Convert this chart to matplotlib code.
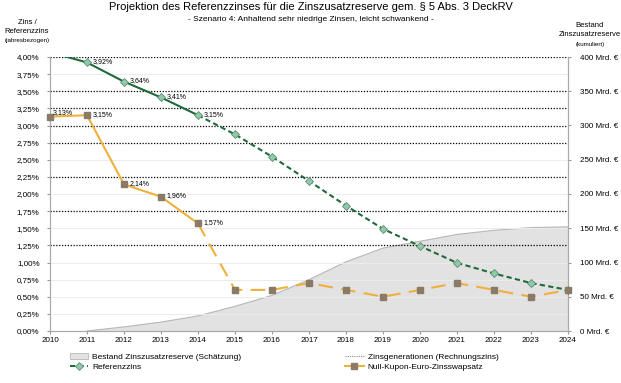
import matplotlib.pyplot as plt
from matplotlib.lines import Line2D
from matplotlib.patches import Patch

plt.rcParams["font.family"] = ["Liberation Sans", "DejaVu Sans"]

years = list(range(2010, 2025))
referenzzins = [4.07, 3.92, 3.64, 3.41, 3.15, 2.87, 2.545, 2.19, 1.83, 1.49,
                1.24, 0.995, 0.84, 0.70, 0.60]
nullkupon = [3.13, 3.15, 2.14, 1.96, 1.57, 0.60, 0.60, 0.70, 0.60, 0.50,
             0.60, 0.70, 0.60, 0.50, 0.60]
bestand_years = list(range(2011, 2025))
bestand = [0, 6, 13, 22, 36, 52, 75, 101, 121, 131, 141, 147, 151, 152]
zinsgenerationen = [4.00, 3.50, 3.25, 3.00, 2.75, 2.25, 1.75, 1.25]
label_idx_ref = [1, 2, 3, 4]
label_idx_nk = [0, 1, 2, 3, 4]
split = 4  # last year with actual values (2014)

green = "#1f6a3c"
green_fill = "#8fcaa9"
orange = "#f0b03c"
brown = "#8a7a66"

fig = plt.figure(figsize=(6.21, 3.83), dpi=100)
ax = fig.add_axes([50 / 621, 52 / 383, 518 / 621, 274 / 383])
ax2 = ax.twinx()
ax.set_zorder(2)
ax.patch.set_visible(False)

# area (right axis)
ax2.fill_between(bestand_years, bestand, color="#e2e2e2", zorder=1)
ax2.plot(bestand_years, bestand, color="#b8b8b8", lw=0.8, zorder=2)
ax2.set_ylim(0, 400)
ax2.set_yticks(range(0, 401, 50))
ax2.set_yticklabels([f"{v} Mrd. €" for v in range(0, 401, 50)])

# pale grid + Zinsgenerationen
ax.set_ylim(0, 4.0)
ax.set_xlim(2010, 2024)
ticks = [i * 0.25 for i in range(17)]
for t in ticks:
    if t not in zinsgenerationen and t > 0:
        ax.axhline(t, color="#ececec", lw=0.7, zorder=0)
for z in zinsgenerationen:
    ax.axhline(z, color="black", lw=0.9, ls=(0, (1, 1.3)), zorder=1)

# Referenzzins
ax.plot(years[:split + 1], referenzzins[:split + 1], color=green, lw=1.5, zorder=4)
ax.plot(years[split:], referenzzins[split:], color=green, lw=1.5,
        ls=(0, (2.5, 1.6)), zorder=4)
ax.plot(years[1:], referenzzins[1:], ls="none", marker="D", ms=3.6,
        mfc=green_fill, mec="#5f8c74", mew=0.6, zorder=5)

# Null-Kupon
ax.plot(years[:split + 1], nullkupon[:split + 1], color=orange, lw=1.5, zorder=4)
ax.plot(years[split:], nullkupon[split:], color=orange, lw=1.5,
        ls=(0, (7, 4)), zorder=4)
ax.plot(years, nullkupon, ls="none", marker="s", ms=3.8, mfc=brown, mec=brown,
        zorder=5, clip_on=False)

for i in label_idx_ref:
    ax.annotate(f"{referenzzins[i]:.2f}%".replace(".", ","), (years[i], referenzzins[i]),
                xytext=(4, 0.5), textcoords="offset points", fontsize=5,
                va="center", zorder=6)
for i in label_idx_nk:
    off = (2, 3) if i == 0 else (4, 0.5)
    ax.annotate(f"{nullkupon[i]:.2f}%".replace(".", ","), (years[i], nullkupon[i]),
                xytext=off, textcoords="offset points", fontsize=5,
                va="center", zorder=6)

ax.set_xticks(years)
ax.set_yticks(ticks)
ax.set_yticklabels([f"{t:.2f}%".replace(".", ",") for t in ticks])
for a in (ax, ax2):
    a.tick_params(labelsize=5.8, length=2.5, color="#999999", pad=2)
    for s in a.spines.values():
        s.set_color("#aaaaaa")
    a.spines["top"].set_visible(False)
ax2.tick_params(axis="y", pad=6)
ax.tick_params(axis="y", pad=5)

fig.text(0.5, 0.982, "Projektion des Referenzzinses für die Zinszusatzreserve gem. § 5 Abs. 3 DeckRV",
         ha="center", va="center", fontsize=8)
fig.text(0.5, 0.950, "- Szenario 4: Anhaltend sehr niedrige Zinsen, leicht schwankend -",
         ha="center", va="center", fontsize=6)
fig.text(27 / 621, 0.93, "Zins /\nReferenzzins", ha="center", va="center",
         fontsize=5.5, linespacing=1.3)
fig.text(27 / 621, 0.893, "(jahresbezogen)", ha="center", va="center", fontsize=4.5)
fig.text(590 / 621, 0.922, "Bestand\nZinszusatzreserve", ha="center", va="center",
         fontsize=5.5, linespacing=1.3)
fig.text(590 / 621, 0.885, "(kumuliert)", ha="center", va="center", fontsize=4.5)

handles = [
    Patch(facecolor="#e2e2e2", edgecolor="#b8b8b8", lw=0.6),
    Line2D([], [], color=green, lw=1.5, ls=(0, (2.5, 1.6)), marker="D", ms=3.6,
           mfc=green_fill, mec="#5f8c74", mew=0.6),
    Line2D([], [], color="#888888", lw=0.8, ls=(0, (1, 1))),
    Line2D([], [], color=orange, lw=1.5, marker="s", ms=3.8, mfc=brown, mec=brown),
]
labels = ["Bestand Zinszusatzreserve (Schätzung)", "Referenzzins",
          "Zinsgenerationen (Rechnungszins)", "Null-Kupon-Euro-Zinsswapsatz"]
fig.legend(handles, labels, loc="center left", bbox_to_anchor=(62 / 621, 0.055),
           ncol=2, frameon=False, fontsize=6, columnspacing=12.5, handlelength=2.2,
           handletextpad=0.5, labelspacing=0.3)

plt.savefig("out.png", dpi=100)
